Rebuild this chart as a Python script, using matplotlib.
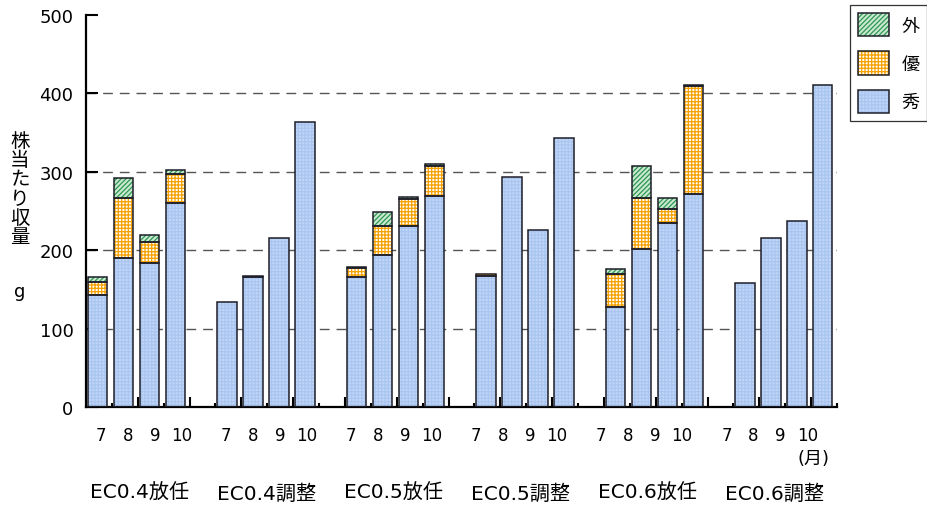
import numpy as np
import matplotlib
matplotlib.use('Agg')
import matplotlib.pyplot as plt
from matplotlib.legend_handler import HandlerTuple

# 日本語フォント
plt.rcParams['font.family'] = ['DejaVu Sans', 'Noto Sans CJK JP']
plt.rcParams['hatch.linewidth'] = 0.9

groups = ['EC0.4放任', 'EC0.4調整', 'EC0.5放任', 'EC0.5調整', 'EC0.6放任', 'EC0.6調整']
months = ['7', '8', '9', '10']

# 株当たり収量 (g)  各区 7,8,9,10月
shu = [143, 190, 184, 260,
       134, 166, 215, 364,
       166, 194, 231, 269,
       167, 293, 226, 343,
       127, 202, 235, 272,
       158, 215, 237, 411]
yu = [16, 77, 27, 37,
      0, 0, 0, 0,
      11, 37, 34, 39,
      3, 0, 0, 0,
      43, 65, 18, 137,
      0, 0, 0, 0]
gai = [7, 25, 9, 5,
       0, 1, 0, 0,
       2, 18, 3, 2,
       0, 0, 0, 0,
       6, 41, 14, 2,
       0, 0, 0, 0]

yticks = [0, 100, 200, 300, 400, 500]

fig = plt.figure(figsize=(9.28, 5.06), dpi=100)
ax = fig.add_axes([86 / 928, 98 / 506, 751 / 928, 392 / 506])

# 区ごとに4本 + 1本分の隙間
x = np.array([g * 5 + m + 0.45 for g in range(len(groups)) for m in range(len(months))])
w = 0.75

layers = [
    (shu, '秀', '#c2d7f7', '#a9c5f0', '+++++'),
    (yu, '優', 'white', '#f5a200', '+++++'),
    (gai, '外', '#c8e9d2', '#2f9650', '///////'),
]

bottom = np.zeros(len(x))
handles = {}
for vals, name, face, hcol, hatch in layers:
    vals = np.array(vals, dtype=float)
    nz = vals > 0
    h1 = ax.bar(x[nz], vals[nz], w, bottom=bottom[nz], color=face,
                edgecolor=hcol, hatch=hatch, linewidth=0, zorder=2)
    h2 = ax.bar(x[nz], vals[nz], w, bottom=bottom[nz], fill=False,
                edgecolor='#1e1e28', linewidth=1.1, zorder=3)
    handles[name] = (h1.patches[0], h2.patches[0])
    bottom += vals

# 破線の目盛線
for v in yticks[1:-1]:
    ax.axhline(v, color='#555555', lw=1, ls=(0, (7, 5)), zorder=1)

ax.set_xlim(0, 29)
ax.set_ylim(0, 500)
ax.set_yticks(yticks)
ax.tick_params(axis='y', direction='in', length=8.5, width=1.5, pad=9, labelsize=13)

ax.set_xticks(range(2, 29, 2))
ax.set_xticks(range(1, 30, 2), minor=True)
ax.tick_params(axis='x', which='major', direction='in', length=7.5, width=1.5, labelbottom=False)
ax.tick_params(axis='x', which='minor', direction='in', length=3, width=1.5, labelbottom=False)

for s in ['top', 'right']:
    ax.spines[s].set_visible(False)
for s in ['left', 'bottom']:
    ax.spines[s].set_linewidth(1.6)

# 月のラベル
tr = ax.get_xaxis_transform()
for g in range(len(groups)):
    for m, mon in enumerate(months):
        ax.text(0.58 + g * 4.83 + m * 1.04, -0.0714, mon, transform=tr,
                ha='center', va='center', fontsize=12)
    ax.text(2.08 + g * 4.9, -0.219, groups[g], transform=tr,
            ha='center', va='center', fontsize=14.5)
ax.text(28.1, -0.130, '(月)', transform=tr, ha='center', va='center', fontsize=13)

# 縦書きの軸ラベル
fig.text(20 / 928, 1 - 132 / 506, '\n'.join('株当たり収量'), ha='center', va='top',
         fontsize=14, linespacing=1.02)
fig.text(20 / 928, 1 - 292 / 506, 'g', ha='center', va='center', fontsize=13)

leg = ax.legend([handles['外'], handles['優'], handles['秀']], ['外', '優', '秀'],
                handler_map={tuple: HandlerTuple(ndivide=1)},
                loc='upper left', bbox_to_anchor=(850 / 928, 1 - 6 / 506),
                bbox_transform=fig.transFigure, borderaxespad=0, fontsize=13,
                handlelength=1.72, handleheight=1.6, handletextpad=0.67,
                borderpad=0.45, labelspacing=0.83, fancybox=False, framealpha=1)
leg.get_frame().set_edgecolor('#333333')
leg.get_frame().set_linewidth(0.9)

fig.savefig('out.png', dpi=100)
